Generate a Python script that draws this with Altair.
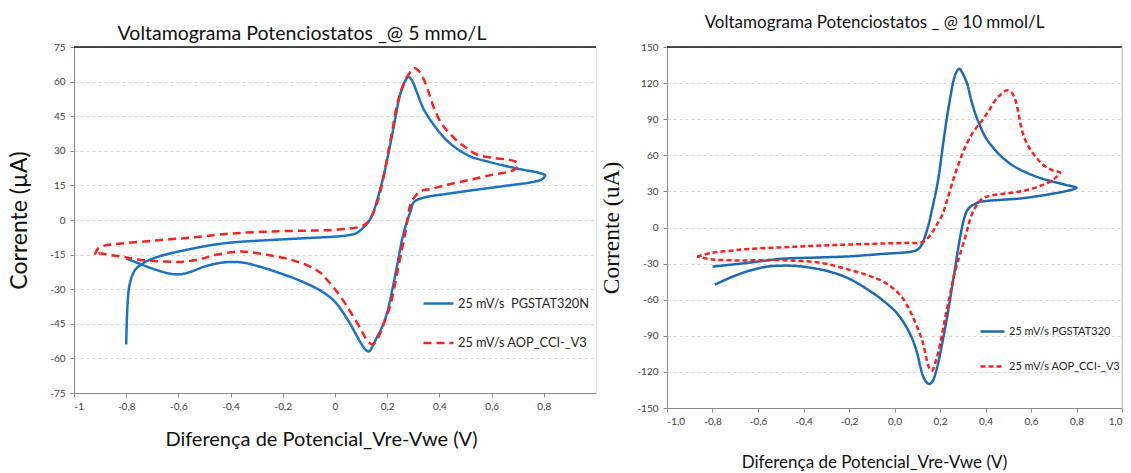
import altair as alt
import pandas as pd

# ---------------- data ----------------
SERIE5_PG = "25 mV/s\u00a0 PGSTAT320N"
SERIE5_AOP = "25 mV/s AOP_CCI-_V3"
SERIE10_PG = "25 mV/s PGSTAT320"
SERIE10_AOP = "25 mV/s AOP_CCI-_V3"

# 5 mmol/L  - PGSTAT320N (blue)
V5_PG = [-0.800, -0.798, -0.795, -0.790, -0.780, -0.765, -0.745, -0.720, -0.680, -0.620,
         -0.550, -0.480, -0.400, -0.300, -0.200, -0.100, 0.000, 0.050, 0.080, 0.100,
         0.120, 0.140, 0.160, 0.190, 0.220, 0.250, 0.270, 0.282, 0.295, 0.315,
         0.340, 0.380, 0.420, 0.460, 0.520, 0.580, 0.650, 0.720, 0.780, 0.805,
         0.790, 0.750, 0.700, 0.620, 0.520, 0.420, 0.360, 0.320, 0.300, 0.290,
         0.275, 0.260, 0.240, 0.220, 0.200, 0.180, 0.160, 0.145, 0.130, 0.115,
         0.100, 0.080, 0.050, 0.000, -0.050, -0.130, -0.200, -0.280, -0.350, -0.400,
         -0.450, -0.500, -0.550, -0.590, -0.630, -0.680, -0.730, -0.770, -0.800]
I5_PG = [-54.0, -45.0, -37.0, -30.0, -25.0, -21.5, -19.5, -17.8, -16.0, -14.2,
         -12.5, -11.0, -9.8, -9.0, -8.4, -7.8, -7.2, -6.6, -5.8, -4.2,
         -2.0, 1.5, 8.0, 21.0, 37.5, 54.5, 60.5, 62.0, 60.5, 55.0,
         48.0, 41.0, 35.5, 31.5, 27.5, 25.5, 23.5, 21.8, 20.5, 19.3,
         17.5, 16.3, 15.5, 14.3, 12.8, 11.2, 10.2, 9.0, 7.5, 4.0,
         -1.0, -7.0, -18.5, -30.0, -40.0, -46.5, -51.0, -54.5, -57.0, -56.0,
         -53.5, -49.5, -43.5, -35.5, -31.0, -26.5, -23.5, -20.5, -18.5, -18.2,
         -18.8, -20.2, -22.3, -23.5, -23.3, -21.8, -19.8, -18.0, -16.7]

# 5 mmol/L  - AOP_CCI-_V3 (red dashed)
V5_AOP = [-0.920, -0.905, -0.880, -0.850, -0.800, -0.730, -0.650, -0.570, -0.500, -0.390,
          -0.250, -0.100, -0.030, 0.050, 0.097, 0.120, 0.136, 0.150, 0.167, 0.185,
          0.200, 0.220, 0.238, 0.258, 0.276, 0.295, 0.308, 0.322, 0.340, 0.360,
          0.378, 0.410, 0.455, 0.500, 0.544, 0.600, 0.660, 0.688, 0.700, 0.690,
          0.660, 0.607, 0.520, 0.430, 0.370, 0.327, 0.305, 0.289, 0.270, 0.244,
          0.212, 0.190, 0.174, 0.158, 0.142, 0.125, 0.097, 0.060, 0.020, -0.030,
          -0.060, -0.100, -0.160, -0.250, -0.360, -0.450, -0.520, -0.580, -0.650, -0.730,
          -0.800, -0.860, -0.900, -0.920]
I5_AOP = [-15.0, -12.0, -11.0, -10.5, -10.0, -9.3, -8.5, -7.8, -7.0, -5.8,
          -5.0, -4.6, -4.4, -3.8, -2.9, -1.5, 0.7, 4.0, 9.5, 18.0,
          27.0, 39.0, 50.0, 57.5, 62.0, 65.0, 65.8, 64.5, 61.0, 55.0,
          48.8, 41.5, 35.7, 31.5, 28.4, 27.0, 26.2, 25.5, 24.0, 22.0,
          20.8, 19.7, 17.5, 15.3, 13.5, 12.5, 10.0, 6.6, -5.0, -19.6,
          -37.0, -44.0, -48.8, -52.5, -53.9, -52.5, -47.0, -40.0, -33.0, -26.0,
          -22.5, -20.0, -17.5, -15.3, -13.7, -15.0, -17.0, -18.1, -18.0, -17.5,
          -16.2, -15.2, -14.5, -15.0]

# 10 mmol/L - PGSTAT320 (blue)
V10_PG = [-0.800, -0.650, -0.495, -0.350, -0.200, -0.055, 0.040, 0.077, 0.095, 0.110,
          0.125, 0.140, 0.152, 0.165, 0.180, 0.194, 0.212, 0.231, 0.247, 0.260,
          0.273, 0.285, 0.297, 0.319, 0.337, 0.355, 0.377, 0.400, 0.435, 0.472,
          0.520, 0.575, 0.635, 0.692, 0.750, 0.800, 0.760, 0.692, 0.620, 0.546,
          0.470, 0.400, 0.370, 0.355, 0.335, 0.319, 0.307, 0.297, 0.282, 0.267,
          0.250, 0.231, 0.212, 0.194, 0.182, 0.172, 0.162, 0.153, 0.140, 0.128,
          0.114, 0.099, 0.077, 0.050, 0.010, -0.055, -0.110, -0.200, -0.270, -0.350,
          -0.430, -0.495, -0.560, -0.640, -0.700, -0.750, -0.790]
I10_PG = [-32.5, -29.5, -26.0, -25.0, -24.0, -22.0, -20.8, -20.0, -19.0, -17.0,
          -12.0, -4.0, 4.0, 15.0, 28.0, 42.0, 67.0, 92.0, 110.0, 122.5,
          129.5, 132.0, 129.0, 119.7, 106.0, 94.7, 84.0, 75.0, 66.0, 58.6,
          51.5, 46.0, 41.5, 38.3, 35.5, 33.0, 30.5, 28.0, 25.8, 24.0,
          23.0, 22.0, 21.0, 19.7, 17.5, 14.0, 8.0, 0.3, -15.0, -33.0,
          -53.0, -74.7, -94.0, -111.0, -120.0, -126.0, -129.0, -130.0, -128.5, -124.7,
          -116.0, -104.0, -92.0, -82.0, -71.0, -60.0, -52.5, -42.5, -37.5, -34.0,
          -32.0, -31.7, -32.5, -36.0, -40.0, -44.0, -47.5]

# 10 mmol/L - AOP_CCI-_V3 (red dashed)
V10_AOP = [-0.868, -0.800, -0.720, -0.641, -0.495, -0.350, -0.202, -0.055, 0.050, 0.121,
           0.145, 0.165, 0.185, 0.209, 0.230, 0.253, 0.280, 0.311, 0.345, 0.385,
           0.415, 0.443, 0.470, 0.495, 0.515, 0.531, 0.545, 0.555, 0.570, 0.590,
           0.615, 0.640, 0.665, 0.695, 0.728, 0.712, 0.692, 0.640, 0.575, 0.500,
           0.428, 0.390, 0.370, 0.355, 0.341, 0.325, 0.311, 0.290, 0.267, 0.245,
           0.223, 0.194, 0.178, 0.165, 0.153, 0.143, 0.125, 0.100, 0.070, 0.033,
           -0.010, -0.055, -0.120, -0.202, -0.320, -0.495, -0.620, -0.714, -0.800, -0.868]
I10_AOP = [-24.2, -21.0, -19.3, -17.8, -16.5, -15.2, -14.2, -13.3, -12.8, -12.2,
           -9.0, -4.5, 2.0, 10.0, 22.0, 36.4, 52.0, 67.0, 79.0, 89.0,
           97.0, 105.8, 111.0, 114.0, 112.0, 106.0, 95.0, 85.0, 75.0, 67.0,
           60.0, 54.5, 50.5, 47.5, 45.5, 42.0, 39.0, 34.5, 30.8, 28.5,
           26.7, 24.5, 21.0, 16.5, 11.4, 2.0, -8.0, -21.0, -35.8, -55.0,
           -74.7, -102.5, -113.0, -119.0, -117.0, -111.0, -96.0, -83.0, -70.0, -58.0,
           -50.0, -44.5, -39.5, -35.0, -29.5, -27.2, -27.3, -27.3, -26.5, -24.2]

X5_TICKS = [-1, -0.8, -0.6, -0.4, -0.2, 0, 0.2, 0.4, 0.6, 0.8]
Y5_TICKS = [-75, -60, -45, -30, -15, 0, 15, 30, 45, 60, 75]
X10_TICKS = [-1.0, -0.8, -0.6, -0.4, -0.2, 0.0, 0.2, 0.4, 0.6, 0.8, 1.0]
Y10_TICKS = [-150, -120, -90, -60, -30, 0, 30, 60, 90, 120, 150]

TITLE5 = "Voltamograma Potenciostatos _@ 5 mmo/L"
TITLE10 = "Voltamograma Potenciostatos _ @ 10 mmol/L"
XTITLE = "Diferença de Potencial_Vre-Vwe  (V)"


def frame(v, i, name):
    return pd.DataFrame({"V": v, "I": i, "serie": name, "ordem": list(range(len(v)))})


df5 = pd.concat([frame(V5_PG, I5_PG, SERIE5_PG), frame(V5_AOP, I5_AOP, SERIE5_AOP)])
df10 = pd.concat([frame(V10_PG, I10_PG, SERIE10_PG), frame(V10_AOP, I10_AOP, SERIE10_AOP)])
one = pd.DataFrame({"k": [0]})

FONT = "Lato"
YLAB = "(datum.value < 0 ? '-' : '') + format(abs(datum.value), 'd')"
XLAB5 = "(datum.value < 0 ? '-' : '') + replace(format(abs(datum.value), '~g'), '.', ',')"
XLAB10 = "(datum.value < 0 ? '-' : '') + replace(format(abs(datum.value), '.1f'), '.', ',')"

W5, H5 = 522, 346
W10, H10 = 455, 361

axis_common = dict(domainColor="#8a8a8a", tickColor="#8a8a8a", tickSize=4,
                   labelFont=FONT, labelFontSize=10, labelColor="#404040",
                   titleFontWeight="normal", titleColor="#111111")


def panel(df, serie_pg, serie_aop, xticks, yticks, xlab, ydom, W, H, title, tsize, tdx, toff,
          ytitle, ytitle_font, ytitle_size, ytitle_x, xtitle_x, xtitle_y, xtitle_size,
          blue, dash, leg_x, leg_y, leg_row, leg_size, leg_font):
    legend = alt.Legend(orient="none", legendX=leg_x, legendY=leg_y, title=None,
                        symbolType="stroke", symbolStrokeWidth=2.5, symbolSize=leg_size,
                        labelFont=FONT, labelFontSize=leg_font, labelColor="#262626",
                        labelLimit=300, rowPadding=leg_row, labelOffset=3, padding=0)
    lines = alt.Chart(df).mark_line(strokeWidth=2.5, interpolate="catmull-rom").encode(
        x=alt.X("V:Q", scale=alt.Scale(domain=[-1, 1], nice=False, zero=False),
                axis=alt.Axis(values=xticks, labelExpr=xlab, grid=False, title=XTITLE,
                              titleFont=FONT, titleFontSize=xtitle_size, titleX=xtitle_x,
                              titleY=xtitle_y, titleAlign="center", titleBaseline="middle",
                              labelPadding=4, **axis_common)),
        y=alt.Y("I:Q", scale=alt.Scale(domain=ydom, nice=False, zero=False),
                axis=alt.Axis(values=yticks, labelExpr=YLAB, grid=True, gridColor="#d4d4d4",
                              gridDash=[3, 3], gridWidth=1, title=ytitle,
                              titleFont=ytitle_font, titleFontSize=ytitle_size, titleX=ytitle_x,
                              titleY=H / 2, titleAlign="center", titleBaseline="middle",
                              titleAngle=270, labelPadding=5, **axis_common)),
        color=alt.Color("serie:N", scale=alt.Scale(domain=[serie_pg, serie_aop],
                                                   range=[blue, "#ff1f1f"]), legend=legend),
        strokeDash=alt.StrokeDash("serie:N", scale=alt.Scale(domain=[serie_pg, serie_aop],
                                                             range=[[1, 0], dash]), legend=legend),
        order=alt.Order("ordem:Q"),
    )
    top = alt.Chart(one).mark_rule(color="#111111", strokeWidth=1.5).encode(
        x=alt.value(0), x2=alt.value(W), y=alt.value(0))
    return alt.layer(lines, top).properties(
        width=W, height=H,
        title=alt.TitleParams(title, font=FONT, fontSize=tsize, fontWeight="normal",
                              color="#111111", anchor="middle", dx=tdx, offset=toff))


left = panel(df5, SERIE5_PG, SERIE5_AOP, X5_TICKS, Y5_TICKS, XLAB5, [-75, 75], W5, H5,
             TITLE5, 19.5, -33, -2.5, "Corrente (µA)", FONT, 23, -55, 247, 46, 20,
             "#1a73c6", [8, 5], 348, 240, 15.5, 900, 12.8)

right_lines = panel(df10, SERIE10_PG, SERIE10_AOP, X10_TICKS, Y10_TICKS, XLAB10, [-150, 150],
                    W10, H10, TITLE10, 17, -20, 10, "Corrente (uA)", "Liberation Serif", 23.5,
                    -56, 207, 54, 17, "#1c6ab6", [5, 3], 312, 271, 16, 576, 11)
right_border = alt.Chart(one).mark_rule(color="#c8c8c8", strokeWidth=1).encode(
    x=alt.value(W10), y=alt.value(0), y2=alt.value(H10))
right = alt.layer(right_lines, right_border)

chart = alt.hconcat(left, right, spacing=0).resolve_scale(
    color="independent", strokeDash="independent"
).properties(
    padding={"left": 7, "top": 13, "right": 0, "bottom": 0}
).configure_view(stroke=None).configure(background="white")

chart.save("out.html", embed_options={"renderer": "svg", "actions": False})
